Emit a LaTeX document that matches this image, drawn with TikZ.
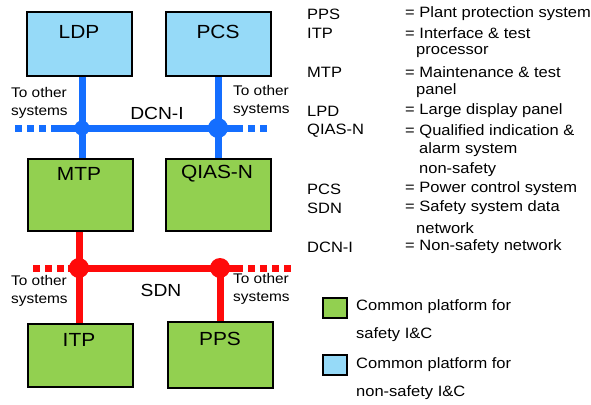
\documentclass[tikz,border=0pt]{standalone}
\usepackage{fontspec}
\setmainfont{Liberation Sans}[FakeStretch=1.1]
\definecolor{boxblue}{RGB}{150,218,248}
\definecolor{boxgreen}{RGB}{146,208,80}
\definecolor{netblue}{RGB}{20,110,255}
\definecolor{netred}{RGB}{255,10,10}
\tikzset{
  sysbox/.style={draw=black, line width=2pt, minimum width=105pt, minimum height=63pt, inner sep=0pt},
  nonsafe/.style={sysbox, fill=boxblue},
  safe/.style={sysbox, fill=boxgreen},
  boxtext/.style={font=\fontsize{19}{21}\selectfont, inner sep=0pt},
  nettext/.style={font=\fontsize{17.5}{19}\selectfont, inner sep=0pt},
  othertext/.style={font=\fontsize{14}{18}\selectfont, align=left, inner sep=0pt, anchor=north west},
  legtext/.style={font=\fontsize{15}{17}\selectfont, inner sep=0pt, anchor=west},
  bnet/.style={draw=netblue, line width=7pt},
  rnet/.style={draw=netred, line width=7pt},
  bdash/.style={bnet, dash pattern=on 7pt off 5pt},
  rdash/.style={rnet, dash pattern=on 7pt off 5pt},
  legbox/.style={draw=black, line width=2pt, minimum width=24pt, minimum height=20pt, inner sep=0pt},
}
\begin{document}
\begin{tikzpicture}[x=1pt,y=-1pt]
\useasboundingbox (0,0) rectangle (591,404);
% boxes
\node[nonsafe] (ldp) at (79.5,44) {};
\node[nonsafe] (pcs) at (218,44) {};
\node[safe, minimum height=72pt] (mtp) at (80,195) {};
\node[safe, minimum height=72pt] (qias) at (218,195) {};
\node[safe, minimum height=63pt] (itp) at (80,355.5) {};
\node[safe, minimum height=66pt] (pps) at (220,355) {};
% box labels
\node[boxtext] (tldp) at (79,32) {LDP};
\node[boxtext] (tpcs) at (218,32) {PCS};
\node[boxtext] (tmtp) at (79,174) {MTP};
\node[boxtext] (tqias) at (217,174) {QIAS-N};
\node[boxtext] (titp) at (79,340) {ITP};
\node[boxtext] (tpps) at (220,339) {PPS};
% DCN-I network
\coordinate (bj1) at (82,128);
\coordinate (bj2) at (218,128);
\coordinate (bl0) at (15,128);
\coordinate (bl1) at (55,128);
\coordinate (br1) at (236,128);
\coordinate (br0) at (272,128);
\draw[bnet] (ldp.south -| bj1) -- (mtp.north -| bj1);
\draw[bnet] (pcs.south -| bj2) -- (qias.north -| bj2);
\draw[bnet] (bl1) -- (br1);
\draw[bdash] (bl0) -- (bl1);
\draw[bdash] (br1) -- (br0);
\fill[netblue] (bj1) circle (7.5pt);
\fill[netblue] (bj2) circle (10pt);
% SDN network
\coordinate (rj1) at (79,268);
\coordinate (rj2) at (220,268);
\coordinate (rl0) at (33,268);
\coordinate (rl1) at (68,268);
\coordinate (rr1) at (236,268);
\coordinate (rr0) at (292,268);
\draw[rnet] (mtp.south -| rj1) -- (itp.north -| rj1);
\draw[rnet] (rj2) -- (pps.north -| rj2);
\draw[rnet] (rl1) -- (rr1);
\draw[rdash] (rl0) -- (rl1);
\draw[rdash] (rr1) -- (rr0);
\fill[netred] (rj1) circle (10pt);
\fill[netred] (rj2) circle (10pt);
% network labels
\node[nettext] (dcn) at (157,113) {DCN-I};
\node[nettext] (sdn) at (161,290) {SDN};
\node[othertext] (o1) at (11,87) {To other\\systems};
\node[othertext] (o2) at (233,85) {To other\\systems};
\node[othertext] (o3) at (11,275) {To other\\systems};
\node[othertext] (o4) at (233,273) {To other\\systems};
% abbreviations
\foreach \y/\a/\d [count=\i] in {
  14/PPS/{= Plant protection system},
  33/ITP/{= Interface \& test},
  72/MTP/{= Maintenance \& test},
  111/LPD/{= Large display panel},
  131/QIAS-N/{= Qualified indication \&},
  189/PCS/{= Power control system},
  208/SDN/{= Safety system data},
  247/DCN-I/{= Non-safety network}}{
  \node[legtext] (ab\i) at (307,\y) {\a};
  \node[legtext] (de\i) at (405,\y) {\d};
}
\node[legtext] (c1) at (416,52) {processor};
\node[legtext] (c2) at (416,91) {panel};
\node[legtext] (c3) at (419,150) {alarm system};
\node[legtext] (c4) at (419,170) {non-safety};
\node[legtext] (c5) at (416,228) {network};
% legend
\node[legbox, fill=boxgreen] (lg) at (334.5,307.5) {};
\node[legbox, fill=boxblue] (lb) at (334.5,365) {};
\node[legtext] (lgt1) at (356,307) {Common platform for};
\node[legtext] (lgt2) at (356,335) {safety I\&C};
\node[legtext] (lbt1) at (356,365) {Common platform for};
\node[legtext] (lbt2) at (356,393) {non-safety I\&C};
\end{tikzpicture}
\end{document}
